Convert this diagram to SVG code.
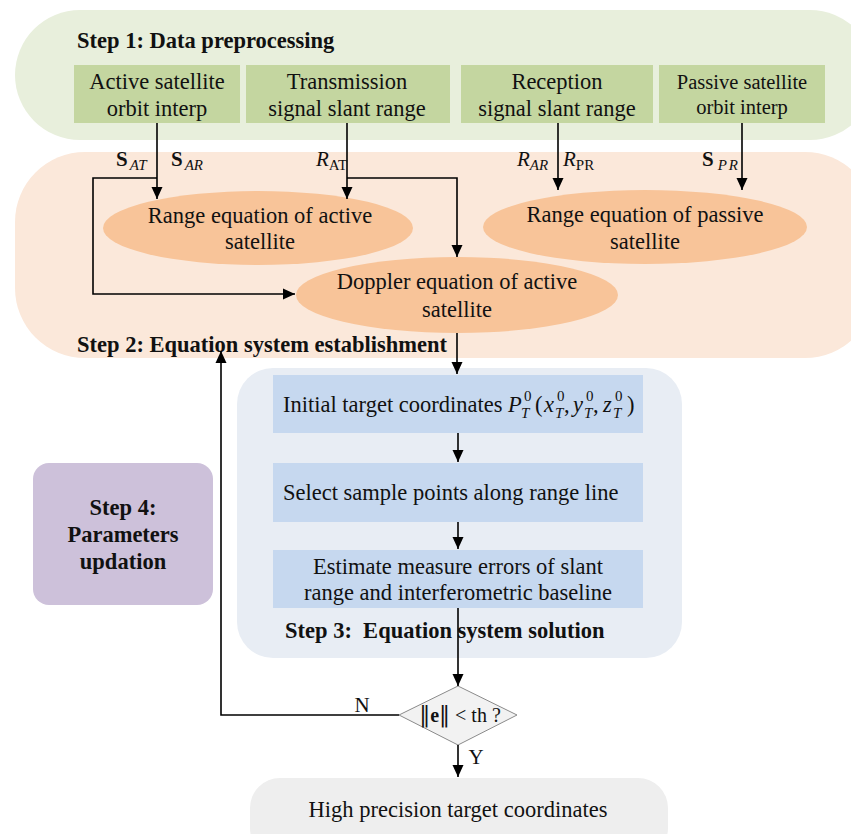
<svg xmlns="http://www.w3.org/2000/svg" width="851" height="834" viewBox="0 0 851 834">
<defs>
<marker id="ah" markerWidth="12" markerHeight="12" refX="12" refY="6" orient="auto" markerUnits="userSpaceOnUse" viewBox="0 0 12 12">
<path d="M0,0.5 L12,6 L0,11.5 z" fill="#000"/>
</marker>
<style>
text{font-family:"Liberation Serif","Times New Roman",serif;fill:#111;}
.t{font-size:22.5px;}
.c{text-anchor:middle;}
.b{font-weight:bold;}
.h{font-size:22.5px;font-weight:bold;}
.g{fill:#c4d6a0;}
.e{fill:#f8c499;}
.bl{fill:#c6d8ef;}
.ln{fill:none;stroke:#000;stroke-width:1.6;}
.la{fill:none;stroke:#000;stroke-width:1.6;marker-end:url(#ah);}
.sub{font-size:15px;}
.m{font-size:22.5px;}
.i{font-style:italic;}
</style>
</defs>
<rect width="851" height="834" fill="#fff"/>
<!-- backgrounds -->
<g id="step1">
<rect x="15" y="10" width="860" height="130" rx="65" fill="#e8efdc"/>
<text x="77" y="48" class="h">Step 1: Data preprocessing</text>
</g>
<g id="step2">
<rect x="15" y="152" width="860" height="206" rx="70" fill="#fbe8da"/>
<text x="77" y="352" class="h">Step 2: Equation system establishment</text>
</g>
<g id="step3">
<rect x="237" y="368" width="445" height="290" rx="36" fill="#e8edf4"/>
<text x="285" y="638" class="h" xml:space="preserve">Step 3:  Equation system solution</text>
</g>
<g id="final">
<rect x="250" y="778" width="418" height="80" rx="30" fill="#eeeeee"/>
<text x="458" y="817" class="t c">High precision target coordinates</text>
</g>
<g id="step4">
<rect x="33" y="463" width="180" height="142" rx="16" fill="#cdc1da"/>
<text x="123" y="515" class="h c">Step 4:</text>
<text x="123" y="542" class="h c">Parameters</text>
<text x="123" y="569" class="h c">updation</text>
</g>
<!-- step1 boxes -->
<g id="active-orbit">
<rect x="74" y="65" width="166" height="58" class="g"/>
<text x="157" y="89" class="t c">Active satellite</text>
<text x="157" y="116" class="t c">orbit interp</text>
</g>
<g id="tx-range">
<rect x="246" y="65" width="204" height="58" class="g"/>
<text x="347" y="89" class="t c">Transmission</text>
<text x="347" y="116" class="t c">signal slant range</text>
</g>
<g id="rx-range">
<rect x="461" y="65" width="192" height="58" class="g"/>
<text x="557" y="89" class="t c">Reception</text>
<text x="557" y="116" class="t c">signal slant range</text>
</g>
<g id="passive-orbit">
<rect x="659" y="65" width="166" height="58" class="g"/>
<text x="742" y="89" class="c" font-size="20.5">Passive satellite</text>
<text x="742" y="114" class="c" font-size="20.5">orbit interp</text>
</g>
<!-- ellipses -->
<g id="range-active">
<ellipse cx="258" cy="228" rx="155" ry="37" class="e"/>
<text x="260" y="223" class="t c">Range equation of active</text>
<text x="260" y="249" class="t c">satellite</text>
</g>
<g id="range-passive">
<ellipse cx="645" cy="227" rx="162" ry="37" class="e"/>
<text x="645" y="222" class="t c">Range equation of passive</text>
<text x="645" y="249" class="t c">satellite</text>
</g>
<g id="doppler">
<ellipse cx="457" cy="295" rx="161" ry="38" class="e"/>
<text x="457" y="289" class="t c">Doppler equation of active</text>
<text x="457" y="317" class="t c">satellite</text>
</g>
<!-- step3 boxes -->
<g id="initial">
<rect x="273" y="375" width="370" height="58" class="bl"/>
<text x="283" y="412" class="t">Initial target coordinates</text>
<text class="m"><tspan class="i" x="508" y="412">P</tspan><tspan class="sub i" x="521" y="418">T</tspan><tspan class="sub" x="524" y="401">0</tspan><tspan x="535" y="412">(</tspan><tspan class="i" x="544" y="412">x</tspan><tspan class="sub i" x="555" y="418">T</tspan><tspan class="sub" x="557" y="401">0</tspan><tspan x="564" y="412">,</tspan><tspan class="i" x="573" y="412">y</tspan><tspan class="sub i" x="584" y="418">T</tspan><tspan class="sub" x="586" y="401">0</tspan><tspan x="593" y="412">,</tspan><tspan class="i" x="603" y="412">z</tspan><tspan class="sub i" x="613" y="418">T</tspan><tspan class="sub" x="615" y="401">0</tspan><tspan x="627" y="412">)</tspan></text>
</g>
<g id="select">
<rect x="273" y="463" width="370" height="59" class="bl"/>
<text x="283" y="500" class="t">Select sample points along range line</text>
</g>
<g id="estimate">
<rect x="273" y="550" width="370" height="58" class="bl"/>
<text x="458" y="574" class="t c">Estimate measure errors of slant</text>
<text x="458" y="600" class="t c">range and interferometric baseline</text>
</g>
<g id="decision">
<polygon points="399,715 458,686 517,715 458,745" fill="#f2f2f2" stroke="#8a8a8a" stroke-width="1"/>
<text x="460" y="722" class="c" font-size="20"><tspan font-family="DejaVu Serif" font-size="22">‖</tspan><tspan font-weight="bold">e</tspan><tspan font-family="DejaVu Serif" font-size="22">‖</tspan> &lt; th ?</text>
</g>
<!-- connectors -->
<g id="connectors">
<path d="M157,123 V199" class="la"/>
<path d="M157,178 H93 V294 H295" class="la"/>
<path d="M347,123 V199" class="la"/>
<path d="M347,178 H457 V257" class="la"/>
<path d="M558,123 V190" class="la"/>
<path d="M742,123 V190" class="la"/>
<path d="M457,333 V374" class="la"/>
<path d="M458,433 V462" class="la"/>
<path d="M458,522 V549" class="la"/>
<path d="M458,608 V686" class="la"/>
<path d="M458,745 V777" class="la"/>
<path d="M399,715 H221 V351" class="la"/>
<text x="362" y="712" class="c" font-size="21">N</text>
<text x="476" y="764" class="c" font-size="21">Y</text>
<text x="116" y="166" class="b" font-size="21">S<tspan class="sub i" font-weight="normal" dx="2" dy="4">AT</tspan></text>
<text x="171" y="166" class="b" font-size="21">S<tspan class="sub i" font-weight="normal" dx="2" dy="4">AR</tspan></text>
<text x="316" y="166" font-size="21"><tspan class="i">R</tspan><tspan class="sub" dy="4">AT</tspan></text>
<text x="517" y="166" font-size="21"><tspan class="i">R</tspan><tspan class="sub i" dy="4">AR</tspan></text>
<text x="563" y="166" font-size="21"><tspan class="i">R</tspan><tspan class="sub" dy="4">PR</tspan></text>
<text x="702" y="166" class="b" font-size="21">S<tspan class="sub i" font-weight="normal" dx="4" dy="4" letter-spacing="2">PR</tspan></text>
</g>
</svg>
